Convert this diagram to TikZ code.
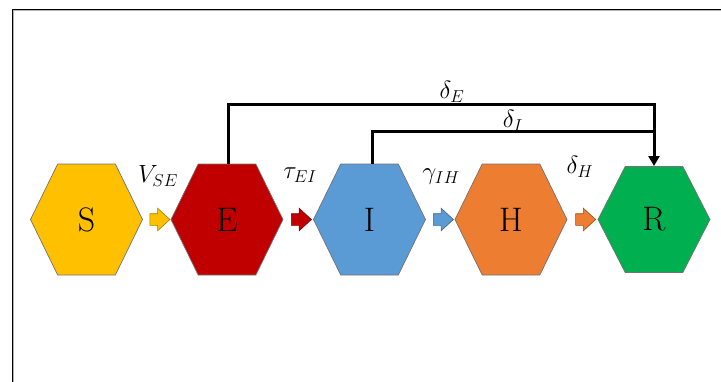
\documentclass[tikz,border=0pt]{standalone}
\usetikzlibrary{calc,shapes.arrows,arrows.meta}
\DeclareMathSizes{24}{24}{18}{13}
\definecolor{cS}{HTML}{FFC000}
\definecolor{cE}{HTML}{C00000}
\definecolor{cI}{HTML}{5B9BD5}
\definecolor{cH}{HTML}{ED7D31}
\definecolor{cR}{HTML}{00B050}
\begin{document}
\begin{tikzpicture}[x=1pt,y=-1pt,
  hex/.style={minimum width=113, minimum height=112, inner sep=0, outer sep=0,
    font=\fontsize{34}{38}\selectfont,
    path picture={
      \filldraw[draw=black!55, line width=0.7pt, fill=#1]
        ([xshift=0.5]path picture bounding box.west)
        -- ($([yshift=-0.5]path picture bounding box.north west)!0.245!([yshift=-0.5]path picture bounding box.north east)$)
        -- ($([yshift=-0.5]path picture bounding box.north west)!0.755!([yshift=-0.5]path picture bounding box.north east)$)
        -- ([xshift=-0.5]path picture bounding box.east)
        -- ($([yshift=0.5]path picture bounding box.south west)!0.755!([yshift=0.5]path picture bounding box.south east)$)
        -- ($([yshift=0.5]path picture bounding box.south west)!0.245!([yshift=0.5]path picture bounding box.south east)$)
        -- cycle;}},
  blk/.style={single arrow, single arrow tip angle=85, single arrow head extend=5.5pt,
    text height=11pt, text depth=0pt, text width=0pt,
    minimum width=22pt, minimum height=20pt, inner sep=0pt, outer sep=0pt,
    fill=#1, draw=#1!65!black, line width=0.6pt},
  flow/.style={line width=3pt},
  lbl/.style={font=\fontsize{24}{28}\selectfont, inner sep=0}
]
\useasboundingbox (0,0) rectangle (721,381);
\draw[black!30, line width=1pt] (13.5,382) -- (13.5,10.5) -- (722,10.5);
\draw[black, line width=0.9pt] (12.5,382) -- (12.5,9.5) -- (722,9.5);

\node[hex=cS] (S) at (86.5,219.5) {S};
\node[hex=cE] (E) at (227,219.5) {E};
\node[hex=cI] (I) at (369.5,219.5) {I};
\node[hex=cH] (H) at (511,219.5) {H};
\node[hex=cR, minimum height=107] (R) at (654,219.5) {R};

\node[blk=cS] (a1) at ($(S.east)!0.5!(E.west)$) {};
\node[blk=cE] (a2) at ($(E.east)!0.5!(I.west)$) {};
\node[blk=cI] (a3) at ($(I.east)!0.5!(H.west)$) {};
\node[blk=cH] (a4) at ($(H.east)!0.5!(R.west)$) {};

\coordinate (jE) at ($(R.north)+(0,-62)$);
\coordinate (jI) at ($(R.north)+(0,-35)$);
\draw[flow, -{Triangle[width=11pt,length=10pt]}] ([xshift=1.5]E.north) |- (jE) -- (R.north);
\draw[flow] ([xshift=3]I.north) |- (jI);

\node[lbl] (lSE) at (158,176) {$V_{SE}$};
\node[lbl] (lEI) at (300,175) {$\tau_{EI}$};
\node[lbl] (lIH) at (441,177) {$\gamma_{IH}$};
\node[lbl] (lH) at (580,167) {$\delta_{H}$};
\node[lbl] (lE) at (452,92) {$\delta_{E}$};
\node[lbl] (lI) at (513,121) {$\delta_{I}$};
\end{tikzpicture}
\end{document}
